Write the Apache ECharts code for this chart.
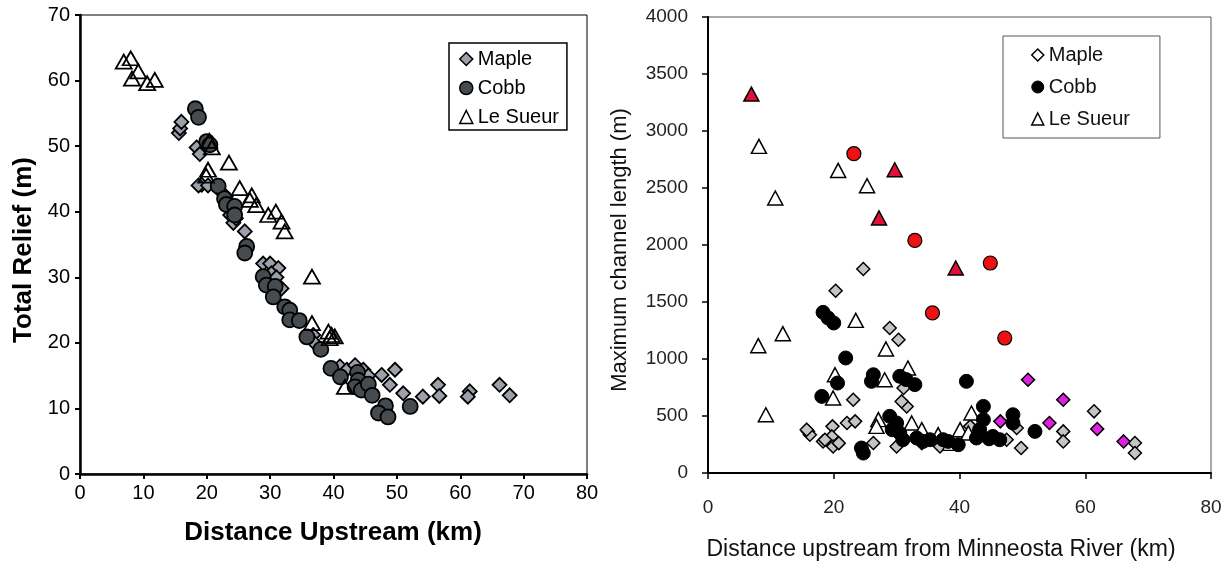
<!DOCTYPE html>
<html><head><meta charset="utf-8">
<script src="https://cdn.jsdelivr.net/npm/echarts@6/dist/echarts.min.js"></script>
<style>html,body{margin:0;padding:0;background:#fff}#c{width:1229px;height:565px}</style>
</head><body><div id="c"></div>
<script>
// ---- Left panel: Total Relief (m) vs Distance Upstream (km)
const leftMaple = [[15.6,52.0],[15.8,52.7],[16.0,53.7],[18.4,49.8],[18.9,48.8],[19.2,44.1],[18.7,44.0],[20.2,44.0],[23.0,42.3],[22.5,42.8],[24.0,41.0],[23.7,39.5],[24.2,38.3],[24.6,39.0],[26.0,37.0],[28.9,32.1],[30.0,32.1],[31.3,31.4],[30.2,30.6],[31.0,30.0],[31.8,28.3],[36.8,21.2],[37.1,19.9],[41.0,16.4],[42.1,15.9],[43.4,16.6],[44.7,15.9],[45.5,15.0],[47.6,15.1],[49.7,15.9],[48.9,13.6],[51.0,12.3],[54.1,11.8],[56.5,13.6],[56.7,11.9],[61.5,12.6],[61.2,11.8],[66.2,13.6],[67.8,12.0]];
const leftCobb = [[18.2,55.7],[18.7,54.4],[20.0,50.7],[20.5,50.2],[21.8,43.9],[22.8,42.0],[23.1,41.1],[24.4,40.8],[24.4,39.5],[26.3,34.7],[26.0,33.7],[28.9,30.1],[29.4,28.8],[30.8,28.6],[30.5,27.0],[32.3,25.5],[33.1,25.0],[33.1,23.5],[34.6,23.4],[35.8,20.9],[38.0,19.0],[39.6,16.1],[41.1,14.8],[43.8,15.5],[43.9,14.3],[43.4,13.3],[44.4,12.8],[45.5,13.7],[46.1,12.0],[48.2,10.4],[47.1,9.3],[48.6,8.7],[52.1,10.3]];
const leftLeSueur = [[6.9,62.9],[8.0,63.4],[8.2,60.3],[9.2,61.4],[10.6,59.6],[11.8,60.1],[20.8,49.8],[20.4,50.8],[23.5,47.5],[20.2,46.4],[19.9,45.5],[25.2,43.6],[27.1,42.5],[26.8,41.8],[27.8,41.0],[29.7,39.5],[30.9,40.0],[31.8,38.5],[32.3,37.0],[36.6,30.1],[36.6,23.0],[39.2,21.7],[39.7,21.2],[40.2,21.0],[39.4,20.7],[41.8,13.3]];

// ---- Right panel: Maximum channel length (m) vs Distance upstream (km)
const rightMaple = [[24.7,1789],[20.3,1599],[28.9,1272],[30.3,1169],[23.1,643],[15.9,365],[16.2,336],[18.3,277],[19.8,409],[19.7,321],[19.9,233],[22.1,439],[23.4,453],[26.3,263],[30.0,233],[31.6,584],[31.1,746],[15.7,380],[18.6,292],[30.8,628],[36.9,233],[41.7,409],[47.5,292],[49.1,395],[49.8,219],[56.5,365],[56.5,277],[61.4,541],[67.9,263],[67.9,175],[34.0,262],[20.8,262]];
const rightMapleHighlight = [[50.9,818],[56.5,643],[54.3,439],[61.9,386],[66.1,277],[46.5,453]];
const rightCobb = [[18.3,1409],[19.1,1360],[20.0,1316],[21.9,1009],[20.6,789],[18.1,672],[26.3,862],[26.0,804],[24.4,219],[24.7,175],[30.5,848],[32.9,775],[31.5,820],[28.9,497],[30.0,439],[30.5,351],[31.0,292],[33.2,307],[35.3,292],[37.4,292],[41.1,804],[43.8,584],[48.5,511],[52.0,365],[43.8,468],[43.2,380],[45.3,321],[34.2,277],[38.2,277],[39.8,248],[48.5,439],[46.4,292],[42.7,307],[29.3,380],[44.7,300]];
const rightCobbHighlight = [[23.2,2801],[32.9,2040],[44.9,1842],[35.7,1404],[47.2,1184]];
const rightLeSueur = [[8.1,2865],[10.7,2412],[20.7,2654],[25.3,2520],[8.0,1117],[11.9,1222],[9.2,511],[23.5,1339],[28.3,1088],[20.2,862],[19.9,658],[28.1,818],[31.8,921],[27.1,468],[26.8,409],[32.4,439],[36.6,336],[40.1,380],[41.9,526],[41.4,351],[34.0,380],[38.5,260]];
const rightLeSueurHighlight = [[6.9,3324],[29.7,2660],[27.2,2237],[39.4,1798]];

const legendNames = ['Maple','Cobb','Le Sueur'];
const leftTitles = {x:'Distance Upstream (km)', y:'Total Relief (m)'};
const rightTitles = {x:'Distance upstream from Minneosta River (km)', y:'Maximum channel length (m)'};

const FF = "'Liberation Sans', Arial, sans-serif";
const chart = echarts.init(document.getElementById('c'), null, {renderer:'canvas'});

function sc(name, data, xi, symbol, size, fill, border, bw, z){
  return {type:'scatter', name:name, data:data, xAxisIndex:xi, yAxisIndex:xi, symbol:symbol, symbolSize:size,
    itemStyle:{color:fill, borderColor:border, borderWidth:bw, opacity:1}, z:z, emphasis:{disabled:true}, silent:true};
}
const plain = v => String(v);

const option = {
  animation:false,
  textStyle:{fontFamily:FF},
  grid:[
    {left:80, top:15, width:507, height:459, show:true, borderColor:'#000', borderWidth:1, backgroundColor:'transparent'},
    {left:708, top:17, width:503, height:456, show:true, borderColor:'#555', borderWidth:1, backgroundColor:'transparent'}
  ],
  xAxis:[
    {type:'value', gridIndex:0, min:0, max:80, interval:10, splitLine:{show:false},
      axisLine:{lineStyle:{color:'#000', width:2.5}}, axisTick:{inside:false, length:5, lineStyle:{color:'#000', width:2}},
      axisLabel:{fontSize:20, color:'#000', margin:9, fontFamily:FF, formatter:plain}},
    {type:'value', gridIndex:1, min:0, max:80, interval:20, splitLine:{show:false},
      axisLine:{lineStyle:{color:'#000', width:2}}, axisTick:{inside:false, length:6, lineStyle:{color:'#000', width:1.5}},
      axisLabel:{fontSize:19, color:'#222', margin:25, fontFamily:FF, formatter:plain}}
  ],
  yAxis:[
    {type:'value', gridIndex:0, min:0, max:70, interval:10, splitLine:{show:false},
      axisLine:{lineStyle:{color:'#000', width:2.5}}, axisTick:{inside:false, length:5, lineStyle:{color:'#000', width:2}},
      axisLabel:{fontSize:20, color:'#000', margin:10, fontFamily:FF, formatter:plain}},
    {type:'value', gridIndex:1, min:0, max:4000, interval:500, splitLine:{show:false},
      axisLine:{lineStyle:{color:'#000', width:2}}, axisTick:{inside:false, length:6, lineStyle:{color:'#000', width:1.5}},
      axisLabel:{fontSize:19, color:'#222', margin:20, fontFamily:FF, formatter:plain}}
  ],
  legend:[
    {orient:'vertical', left:449, top:43, borderColor:'#000', borderWidth:1.5, padding:[6,8,3,10], itemGap:9,
      itemWidth:13, itemHeight:13, selectedMode:false,
      textStyle:{fontSize:20, lineHeight:20, color:'#000', fontFamily:FF},
      data:[
        {name:legendNames[0], icon:'diamond', itemStyle:{color:'#9ca0aa', borderColor:'#000', borderWidth:1.5}},
        {name:legendNames[1], icon:'circle', itemStyle:{color:'#454b4e', borderColor:'#000', borderWidth:1.5}},
        {name:legendNames[2], icon:'triangle', itemStyle:{color:'#fff', borderColor:'#000', borderWidth:1.5}}
      ]},
    {orient:'vertical', left:1003, top:36, borderColor:'#555', borderWidth:1, padding:[9,30,9,28], itemGap:12,
      itemWidth:12, itemHeight:12, selectedMode:false,
      textStyle:{fontSize:20, lineHeight:20, color:'#111', fontFamily:FF},
      data:[
        {name:legendNames[0], icon:'diamond', itemStyle:{color:'#fff', borderColor:'#000', borderWidth:1.5}},
        {name:legendNames[1], icon:'circle', itemStyle:{color:'#000', borderColor:'#000', borderWidth:1}},
        {name:legendNames[2], icon:'triangle', itemStyle:{color:'#fff', borderColor:'#000', borderWidth:1.5}}
      ]}
  ],
  graphic:[
    {type:'text', x:333, y:533, style:{text:leftTitles.x, font:"bold 26px "+FF, fill:'#000', textAlign:'center', textVerticalAlign:'middle'}},
    {type:'text', x:24, y:250, rotation:Math.PI/2, style:{text:leftTitles.y, font:"bold 26px "+FF, fill:'#000', textAlign:'center', textVerticalAlign:'middle'}},
    {type:'text', x:941, y:550, style:{text:rightTitles.x, font:"23px "+FF, fill:'#111', textAlign:'center', textVerticalAlign:'middle'}},
    {type:'text', x:620, y:250, rotation:Math.PI/2, style:{text:rightTitles.y, font:"22px "+FF, fill:'#111', textAlign:'center', textVerticalAlign:'middle'}}
  ],
  series:[
    sc(legendNames[0], leftMaple, 0, 'diamond', 14, '#9ca0aa', '#000', 1.8, 2),
    sc(legendNames[1], leftCobb, 0, 'circle', 15, '#454b4e', '#000', 1.8, 3),
    sc(legendNames[2], leftLeSueur, 0, 'triangle', [16,14], 'rgba(255,255,255,0)', '#000', 1.8, 4),
    sc(legendNames[0], rightMaple, 1, 'diamond', 13, '#c4c4c4', '#000', 1.5, 2),
    sc('Maple highlighted', rightMapleHighlight, 1, 'diamond', 13, '#e020e0', '#000', 1.5, 2),
    sc(legendNames[2], rightLeSueur, 1, 'triangle', [15,14], '#fff', '#000', 1.5, 3),
    sc('Le Sueur highlighted', rightLeSueurHighlight, 1, 'triangle', [15,14], '#e0103a', '#000', 1.5, 3),
    sc(legendNames[1], rightCobb, 1, 'circle', 14, '#000', '#000', 1, 4),
    sc('Cobb highlighted', rightCobbHighlight, 1, 'circle', 14, '#ee1111', '#000', 1.2, 4)
  ]
};
chart.setOption(option);
</script>
</body></html>
